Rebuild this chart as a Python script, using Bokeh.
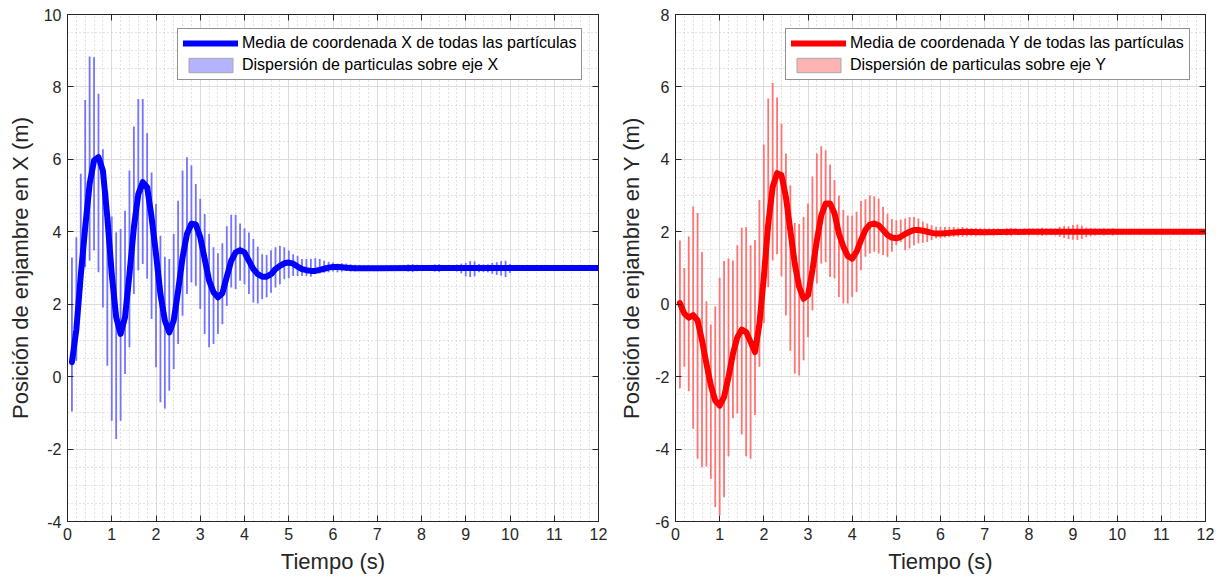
import numpy as np
from bokeh.plotting import figure
from bokeh.models import Range1d, FixedTicker, LinearAxis, Legend, LegendItem, ColumnDataSource
from bokeh.layouts import row
from bokeh.embed import file_html
from bokeh.resources import INLINE

FONT = "Liberation Sans"
TXT = "#262626"

# ---------------- data ----------------
t_bar = [round(0.1 * i, 1) for i in range(1, 101)]

x_lo = [-0.96, 0.44, 2.83, 3.02, 3.20, 3.48, 2.88, 1.91, 0.30, -1.22,
        -1.72, -1.22, 0.07, 0.81, 2.28, 2.93, 3.11, 2.70, 1.59, 0.26,
        -0.71, -0.88, -0.39, 0.21, 0.90, 1.68, 2.28, 2.60, 2.51, 1.87,
        1.18, 0.81, 0.90, 1.18, 1.45, 1.95, 2.46, 2.42, 2.65, 2.55,
        2.28, 2.05, 2.02, 2.14, 2.19, 2.32, 2.46, 2.55, 2.69, 2.72,
        2.78, 2.78, 2.78, 2.78, 2.76, 2.83, 2.85, 2.87, 2.88, 2.90,
        2.88, 2.90, 2.92, 2.90, 2.91, 2.92, 2.93, 2.94, 2.93, 2.94,
        2.94, 2.95, 2.94, 2.95, 2.93, 2.92, 2.90, 2.89, 2.91, 2.93,
        2.94, 2.92, 2.90, 2.89, 2.92, 2.94, 2.93, 2.90, 2.85, 2.77,
        2.75, 2.77, 2.88, 2.89, 2.88, 2.84, 2.81, 2.79, 2.75, 2.86]
x_hi = [3.29, 3.85, 5.60, 7.64, 8.84, 8.82, 7.81, 6.28, 5.12, 4.42,
        3.99, 4.08, 4.58, 5.69, 6.91, 7.67, 7.67, 6.72, 5.64, 4.77,
        3.89, 3.31, 3.25, 3.94, 4.86, 5.69, 6.06, 5.83, 5.32, 4.91,
        4.49, 3.94, 3.57, 3.41, 3.68, 4.15, 4.47, 4.47, 4.23, 4.10,
        3.98, 3.80, 3.59, 3.38, 3.36, 3.49, 3.57, 3.61, 3.57, 3.48,
        3.38, 3.34, 3.25, 3.25, 3.25, 3.27, 3.25, 3.20, 3.17, 3.15,
        3.12, 3.13, 3.12, 3.10, 3.09, 3.08, 3.07, 3.07, 3.06, 3.06,
        3.06, 3.05, 3.06, 3.05, 3.07, 3.08, 3.10, 3.11, 3.09, 3.07,
        3.06, 3.08, 3.10, 3.11, 3.08, 3.06, 3.07, 3.10, 3.12, 3.14,
        3.19, 3.18, 3.11, 3.10, 3.10, 3.14, 3.16, 3.19, 3.20, 3.11]

y_lo = [-2.33, -1.73, -2.40, -3.44, -4.27, -4.50, -4.48, -4.82, -5.60, -5.83,
        -5.33, -4.20, -3.14, -3.02, -3.60, -4.20, -4.27, -3.06, -1.73, -0.52,
        0.47, 1.21, 1.38, 0.77, -0.31, -1.29, -1.92, -1.97, -1.55, -0.91,
        -0.17, 0.57, 1.12, 1.16, 0.75, 0.71, 0.20, 0.02, 0.02, 0.20,
        0.34, 0.94, 1.31, 1.40, 1.45, 1.40, 1.36, 1.31, 1.45, 1.63,
        1.72, 1.49, 1.54, 1.63, 1.68, 1.70, 1.72, 1.77, 1.82, 1.82,
        1.84, 1.85, 1.86, 1.87, 1.86, 1.88, 1.89, 1.88, 1.90, 1.90,
        1.91, 1.90, 1.91, 1.92, 1.90, 1.89, 1.91, 1.92, 1.91, 1.90,
        1.91, 1.90, 1.89, 1.90, 1.91, 1.90, 1.86, 1.83, 1.80, 1.78,
        1.77, 1.80, 1.85, 1.88, 1.90, 1.91, 1.90, 1.91, 1.90, 1.92]
y_hi = [1.76, 1.00, 1.87, 2.70, 2.52, 1.44, 0.08, -0.56, -0.06, 0.73,
        1.19, 1.26, 1.21, 1.63, 2.11, 2.13, 1.63, 1.77, 2.88, 4.41,
        5.68, 6.11, 5.71, 4.99, 4.16, 3.28, 2.24, 2.22, 2.41, 2.78,
        3.53, 4.16, 4.36, 4.25, 3.86, 3.43, 3.00, 2.60, 2.45, 2.45,
        2.55, 2.85, 2.90, 3.01, 2.98, 2.92, 2.69, 2.50, 2.35, 2.32,
        2.34, 2.37, 2.41, 2.41, 2.37, 2.28, 2.23, 2.18, 2.14, 2.14,
        2.13, 2.14, 2.13, 2.12, 2.13, 2.11, 2.10, 2.11, 2.10, 2.10,
        2.09, 2.10, 2.09, 2.08, 2.10, 2.11, 2.09, 2.08, 2.09, 2.10,
        2.09, 2.10, 2.11, 2.10, 2.09, 2.10, 2.14, 2.16, 2.15, 2.19,
        2.20, 2.17, 2.12, 2.11, 2.10, 2.09, 2.10, 2.09, 2.10, 2.08]

t_mean = [round(0.1 * i, 1) for i in range(1, 66)] + [7.0, 8.0, 9.0, 10.0, 11.0, 12.0]

x_mean = [0.40, 1.30, 2.80, 4.12, 5.32, 5.97, 6.06, 5.69, 4.40, 2.83,
          1.64, 1.18, 1.64, 2.83, 4.12, 5.04, 5.37, 5.23, 4.40, 3.39,
          2.28, 1.55, 1.22, 1.55, 2.37, 3.29, 3.94, 4.22, 4.20, 3.85,
          3.25, 2.65, 2.33, 2.19, 2.30, 2.76, 3.20, 3.43, 3.49, 3.43,
          3.20, 2.97, 2.83, 2.76, 2.76, 2.83, 2.97, 3.06, 3.13, 3.15,
          3.12, 3.04, 2.97, 2.94, 2.92, 2.92, 2.95, 2.98, 3.01, 3.03,
          3.03, 3.02, 3.01, 3.00, 2.99,
          2.99, 3.00, 3.00, 3.00, 3.00, 3.00]

y_mean = [0.03, -0.26, -0.37, -0.30, -0.45, -1.00, -1.64, -2.24, -2.66, -2.80,
          -2.56, -2.01, -1.37, -0.91, -0.70, -0.77, -1.04, -1.32, -0.54, 0.75,
          2.22, 3.24, 3.62, 3.56, 2.96, 2.04, 1.12, 0.48, 0.15, 0.25,
          0.94, 1.76, 2.45, 2.78, 2.78, 2.51, 1.95, 1.59, 1.33, 1.26,
          1.45, 1.77, 2.05, 2.20, 2.23, 2.18, 2.05, 1.91, 1.84, 1.82,
          1.86, 1.94, 2.00, 2.05, 2.05, 2.03, 2.00, 1.97, 1.95, 1.95,
          1.96, 1.97, 1.98, 1.99, 2.00,
          1.99, 2.00, 2.00, 2.00, 2.00, 2.00]

x_ticks = list(range(0, 13))
left_yticks = [-4, -2, 0, 2, 4, 6, 8, 10]
right_yticks = [-6, -4, -2, 0, 2, 4, 6, 8]

labels_x = ["Media de coordenada X de todas las partículas", "Dispersión de particulas sobre eje X"]
labels_y = ["Media de coordenada Y de todas las partículas", "Dispersión de particulas sobre eje Y"]


def make_panel(lo, hi, mean, ylim, yticks, ylabel, color, bar_color, patch_color, labels,
               border_left, border_right):
    p = figure(width=615, height=588, output_backend="svg", toolbar_location=None,
               x_range=Range1d(0, 12), y_range=Range1d(*ylim),
               min_border_left=border_left, min_border_right=border_right,
               min_border_top=14, min_border_bottom=67,
               background_fill_color="white", border_fill_color="white")
    p.outline_line_color = TXT
    p.outline_line_width = 1

    xt = FixedTicker(ticks=x_ticks, minor_ticks=list(np.round(np.arange(0, 12.001, 0.2), 2)))
    yt = FixedTicker(ticks=yticks, minor_ticks=list(np.round(np.arange(ylim[0], ylim[1] + 0.001, 0.5), 2)))
    p.xaxis.ticker = xt
    p.yaxis.ticker = yt
    p.xgrid.ticker = xt
    p.ygrid.ticker = yt
    p.yaxis.major_label_overrides = {t: str(t) for t in yticks}

    for g in (p.xgrid[0], p.ygrid[0]):
        g.grid_line_color = "#dcdcdc"
        g.grid_line_width = 1
        g.minor_grid_line_color = "#c4c4c4"
        g.minor_grid_line_dash = "1 3"
        g.minor_grid_line_width = 1

    for ax in (p.xaxis[0], p.yaxis[0]):
        ax.major_tick_in = 6
        ax.major_tick_out = 0
        ax.minor_tick_in = 0
        ax.minor_tick_out = 0
        ax.axis_line_color = TXT
        ax.major_tick_line_color = TXT
        ax.major_label_text_font = FONT
        ax.major_label_text_font_size = "16px"
        ax.major_label_text_color = TXT
        ax.axis_label_text_font = FONT
        ax.axis_label_text_font_size = "22px"
        ax.axis_label_text_font_style = "normal"
        ax.axis_label_text_color = TXT
    p.xaxis.axis_label = "Tiempo (s)"
    p.yaxis.axis_label = ylabel
    p.xaxis.major_label_standoff = 6
    p.yaxis.major_label_standoff = 6
    p.xaxis.axis_label_standoff = 6
    p.yaxis.axis_label_standoff = 8

    # box ticks on top/right (no labels)
    top = LinearAxis(ticker=xt, major_label_overrides={t: "" for t in x_ticks},
                     major_tick_in=6, major_tick_out=0,
                     minor_tick_in=0, minor_tick_out=0, axis_line_color=TXT, major_tick_line_color=TXT,
                     major_label_standoff=0)
    right = LinearAxis(ticker=yt, major_label_overrides={t: "" for t in yticks},
                       major_tick_in=6, major_tick_out=0,
                       minor_tick_in=0, minor_tick_out=0, axis_line_color=TXT, major_tick_line_color=TXT,
                       major_label_standoff=0)
    p.add_layout(top, "above")
    p.add_layout(right, "right")

    src = ColumnDataSource(dict(t=t_bar, lo=lo, hi=hi))
    p.segment(x0="t", y0="lo", x1="t", y1="hi", source=src, line_color=bar_color, line_width=1.8)

    msrc = ColumnDataSource(dict(t=t_mean, m=mean))
    line_r = p.line(x="t", y="m", source=msrc, line_color=color, line_width=6,
                    line_join="round", line_cap="round")

    # legend-only patch renderer (NaN geometry: nothing drawn in the plot area)
    nan_src = ColumnDataSource(dict(left=[np.nan], right=[np.nan], top=[np.nan], bottom=[np.nan]))
    patch_r = p.quad(left="left", right="right", top="top", bottom="bottom", source=nan_src,
                     fill_color=patch_color, line_color="#a8a8a8", line_width=1)

    legend = Legend(items=[LegendItem(label=labels[0], renderers=[line_r]),
                           LegendItem(label=labels[1], renderers=[patch_r])],
                    location=(110, 441), orientation="vertical")
    legend.label_text_font = FONT
    legend.label_text_font_size = "16px"
    legend.label_text_color = "black"
    legend.glyph_width = 55
    legend.glyph_height = 18
    legend.label_height = 18
    legend.label_standoff = 4
    legend.spacing = 4
    legend.padding = 5
    legend.margin = 0
    legend.border_line_color = TXT
    legend.border_line_width = 1
    legend.background_fill_color = "white"
    legend.background_fill_alpha = 1.0
    p.add_layout(legend, "center")
    return p


p1 = make_panel(x_lo, x_hi, x_mean, (-4, 10), left_yticks, "Posición de enjambre en X (m)",
                "#0000ff", "#7373ff", "#b3b3ff", labels_x, 67, 17)
p2 = make_panel(y_lo, y_hi, y_mean, (-6, 8), right_yticks, "Posición de enjambre en Y (m)",
                "#ff0000", "#ff7373", "#ffb3b3", labels_y, 60, 25)

layout = row(p1, p2)
open("out.html", "w").write(file_html(layout, INLINE))
